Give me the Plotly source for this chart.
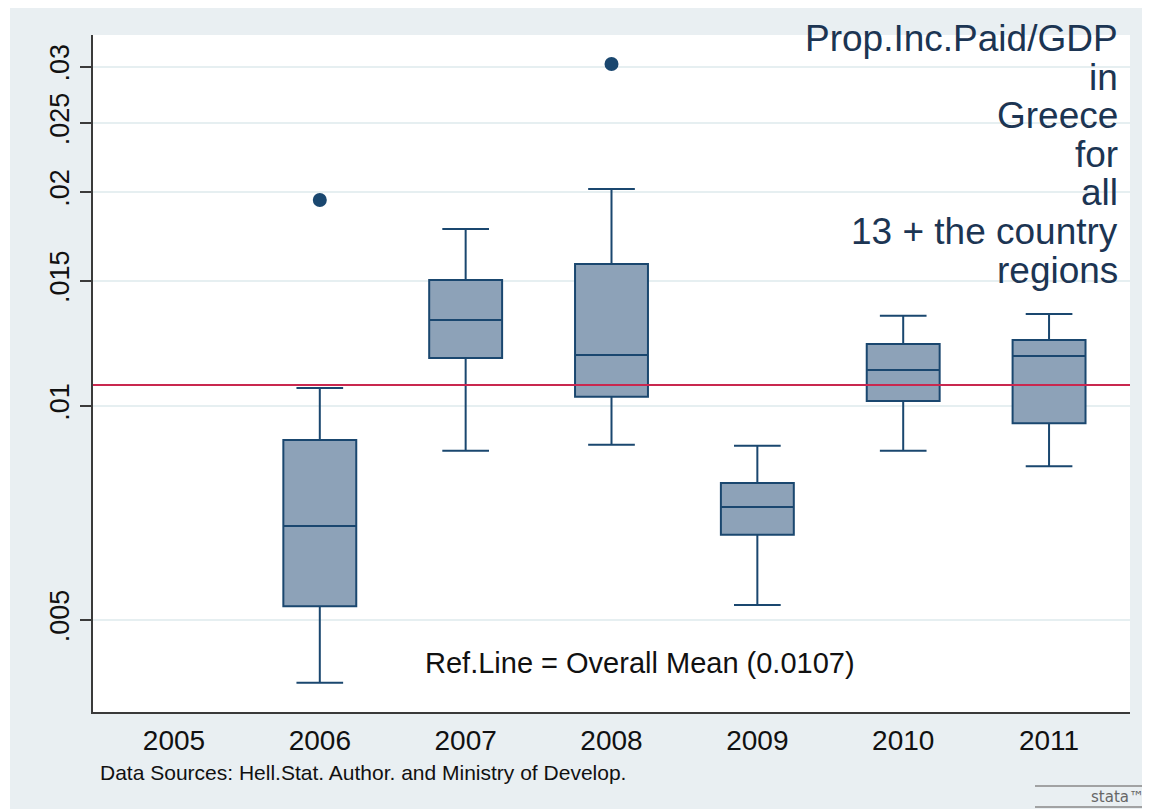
import plotly.graph_objects as go

# ---- data ----
years = [2005, 2006, 2007, 2008, 2009, 2010, 2011]
box_years = [2006, 2007, 2008, 2009, 2010, 2011]
lower_whisker = [0.00408, 0.00865, 0.00882, 0.00525, 0.00865, 0.00823]
q1_vals = [0.00523, 0.01168, 0.01030, 0.00659, 0.01016, 0.00946]
median_vals = [0.00678, 0.01321, 0.01180, 0.00721, 0.01124, 0.01176]
q3_vals = [0.00896, 0.01504, 0.01584, 0.00779, 0.01222, 0.01238]
upper_whisker = [0.01060, 0.01774, 0.02020, 0.00879, 0.01339, 0.01347]
outlier_years = [2006, 2008]
outlier_vals = [0.01949, 0.03027]
overall_mean = 0.0107
y_tick_vals = [0.005, 0.01, 0.015, 0.02, 0.025, 0.03]
y_tick_text = [".005", ".01", ".015", ".02", ".025", ".03"]
title_lines = ["Prop.Inc.Paid/GDP", "in", "Greece", "for", "all", "13 + the country", "regions"]

FONT = "Liberation Sans, Arial, sans-serif"
NAVY = "#1a476f"
FILL = "#8da2b8"
BG = "#e9eff2"

# the page body adds an 8px margin, so the figure is placed at (8, 8)
OFF = 8
W, H = 1150 - OFF, 809 - OFF
# plot-area geometry in page pixels
L, R, T, B = 93, 1130, 35, 712

def px_x(px):
    return (px - L) / (R - L)

def px_y(py):
    return (B - py) / (B - T)

fig = go.Figure()

# reference line (drawn first so it sits behind the boxes)
fig.add_trace(go.Scatter(
    x=[2004.445, 2011.555], y=[overall_mean, overall_mean], mode="lines",
    line=dict(color="#c9284f", width=2), hoverinfo="skip", showlegend=False))

fig.add_trace(go.Box(
    x=box_years, q1=q1_vals, median=median_vals, q3=q3_vals,
    lowerfence=lower_whisker, upperfence=upper_whisker,
    width=0.5, whiskerwidth=0.64, fillcolor=FILL,
    line=dict(color=NAVY, width=2), boxpoints=False, showlegend=False))

fig.add_trace(go.Scatter(
    x=outlier_years, y=outlier_vals, mode="markers",
    marker=dict(color=NAVY, size=14), showlegend=False))

annotations = []
# title lines, right aligned inside the plot
baseline0, spacing = 52, 38.6
for i, t in enumerate(title_lines):
    yb = baseline0 + i * spacing
    annotations.append(dict(
        text=t, x=px_x(1120), y=px_y(yb - 13.5), xref="paper", yref="paper",
        xanchor="right", yanchor="middle", showarrow=False,
        font=dict(family=FONT, size=37, color="#1c3553")))

annotations.append(dict(
    text="Ref.Line = Overall Mean (0.0107)", x=px_x(640), y=px_y(663),
    xref="paper", yref="paper", xanchor="center", yanchor="middle",
    showarrow=False, font=dict(family=FONT, size=29, color="#111111")))

annotations.append(dict(
    text="Data Sources: Hell.Stat. Author. and Ministry of Develop.",
    x=px_x(98), y=px_y(772), xref="paper", yref="paper",
    xanchor="left", yanchor="middle", showarrow=False,
    font=dict(family=FONT, size=21, color="#111111")))

annotations.append(dict(
    text="stata™", x=px_x(1146), y=px_y(797), xref="paper", yref="paper",
    xanchor="right", yanchor="middle", showarrow=False,
    font=dict(family="DejaVu Sans, sans-serif", size=15, color="#666666")))

shapes = [
    # thin white strip at the left edge (body margin gives the first 8px)
    dict(type="rect", xref="paper", yref="paper", x0=px_x(OFF), x1=px_x(10),
         y0=px_y(809), y1=px_y(OFF), fillcolor="white", line=dict(width=0), layer="below"),
    # lines around the stata logo
    dict(type="line", xref="paper", yref="paper", x0=px_x(1035), x1=px_x(1147),
         y0=px_y(786), y1=px_y(786), line=dict(color="#888888", width=1.5)),
    dict(type="line", xref="paper", yref="paper", x0=px_x(1035), x1=px_x(1147),
         y0=px_y(807), y1=px_y(807), line=dict(color="#888888", width=1.5)),
]

fig.update_layout(
    width=W, height=H,
    margin=dict(l=L - OFF, r=1150 - R, t=T - OFF, b=809 - B, pad=0),
    paper_bgcolor=BG, plot_bgcolor="white",
    font=dict(family=FONT, color="#111111"),
    showlegend=False,
    annotations=annotations, shapes=shapes,
    xaxis=dict(
        range=[2004.445, 2011.555], tickvals=years, ticktext=[str(y) for y in years],
        ticks="outside", ticklen=2, tickcolor="rgba(0,0,0,0)",
        tickfont=dict(family=FONT, size=28, color="#111111"),
        showgrid=False, zeroline=False,
        showline=True, linecolor="#3a3a3a", linewidth=2),
    yaxis=dict(
        type="log", range=[-2.4304, -1.4782],
        tickvals=y_tick_vals, ticktext=y_tick_text, tickangle=-90,
        ticks="outside", ticklen=11, tickcolor="#3a3a3a", tickwidth=1.5,
        tickfont=dict(family=FONT, size=27, color="#111111"),
        showgrid=True, gridcolor="#e6eff1", gridwidth=1.5, zeroline=False,
        showline=True, linecolor="#3a3a3a", linewidth=2),
)

fig.write_html("out.html")
